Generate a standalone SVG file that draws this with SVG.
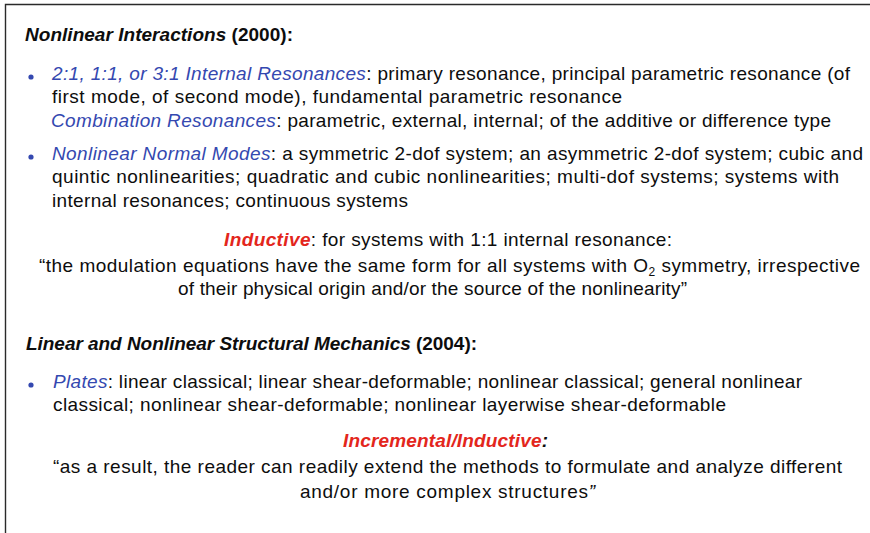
<svg xmlns="http://www.w3.org/2000/svg" width="870" height="533" viewBox="0 0 870 533">
  <style>
    text { font-family: "Liberation Sans", Arial, sans-serif; font-size: 19px; fill: #0d0d0d; }
    .head { font-weight: bold; }
    .bi { font-weight: bold; font-style: italic; }
    .term { font-style: italic; fill: #3448b0; }
    .red { font-weight: bold; font-style: italic; fill: #e3261c; }
    .dot { fill: #3448b0; }
  </style>
  <rect width="870" height="533" fill="#ffffff"/>
  <!-- frame: top and left edges -->
  <path d="M5.5 533 V4.5 H870" fill="none" stroke="#2a2a2a" stroke-width="1.4"/>

  <g id="section-2000">
    <text class="head" x="25" y="41" textLength="268"><tspan class="bi">Nonlinear Interactions</tspan> (2000):</text>

    <circle class="dot" cx="31" cy="77" r="2.6"/>
    <text x="52" y="80" textLength="798"><tspan class="term">2:1, 1:1, or 3:1 Internal Resonances</tspan>: primary resonance, principal parametric resonance (of</text>
    <text x="52" y="103" textLength="570">first mode, of second mode), fundamental parametric resonance</text>
    <text x="51" y="127" textLength="780"><tspan class="term">Combination Resonances</tspan>: parametric, external, internal; of the additive or difference type</text>

    <circle class="dot" cx="31" cy="157" r="2.6"/>
    <text x="52" y="160" textLength="811"><tspan class="term">Nonlinear Normal Modes</tspan>: a symmetric 2-dof system; an asymmetric 2-dof system; cubic and</text>
    <text x="52" y="183" textLength="787">quintic nonlinearities; quadratic and cubic nonlinearities; multi-dof systems; systems with</text>
    <text x="52" y="207" textLength="356">internal resonances; continuous systems</text>

    <text x="224" y="246" textLength="448"><tspan class="red">Inductive</tspan>: for systems with 1:1 internal resonance:</text>
    <text x="39" y="272" textLength="821">“the modulation equations have the same form for all systems with O<tspan font-size="12" dy="4">2</tspan><tspan dy="-4"> symmetry, irrespective</tspan></text>
    <text x="178" y="295" textLength="509">of their physical origin and/or the source of the nonlinearity”</text>
  </g>

  <g id="section-2004">
    <text class="head" x="26" y="350" textLength="451"><tspan class="bi">Linear and Nonlinear Structural Mechanics</tspan> (2004):</text>

    <circle class="dot" cx="31" cy="385" r="2.6"/>
    <text x="53" y="388" textLength="749"><tspan class="term">Plates</tspan>: linear classical; linear shear-deformable; nonlinear classical; general nonlinear</text>
    <text x="53" y="411" textLength="673">classical; nonlinear shear-deformable; nonlinear layerwise shear-deformable</text>

    <text x="343" y="447" textLength="205"><tspan class="red">Incremental/Inductive</tspan><tspan class="bi">:</tspan></text>
    <text x="53" y="473" textLength="789">“as a result, the reader can readily extend the methods to formulate and analyze different</text>
    <text x="300" y="498" textLength="295">and/or more complex structures<tspan font-style="italic">”</tspan></text>
  </g>
</svg>
